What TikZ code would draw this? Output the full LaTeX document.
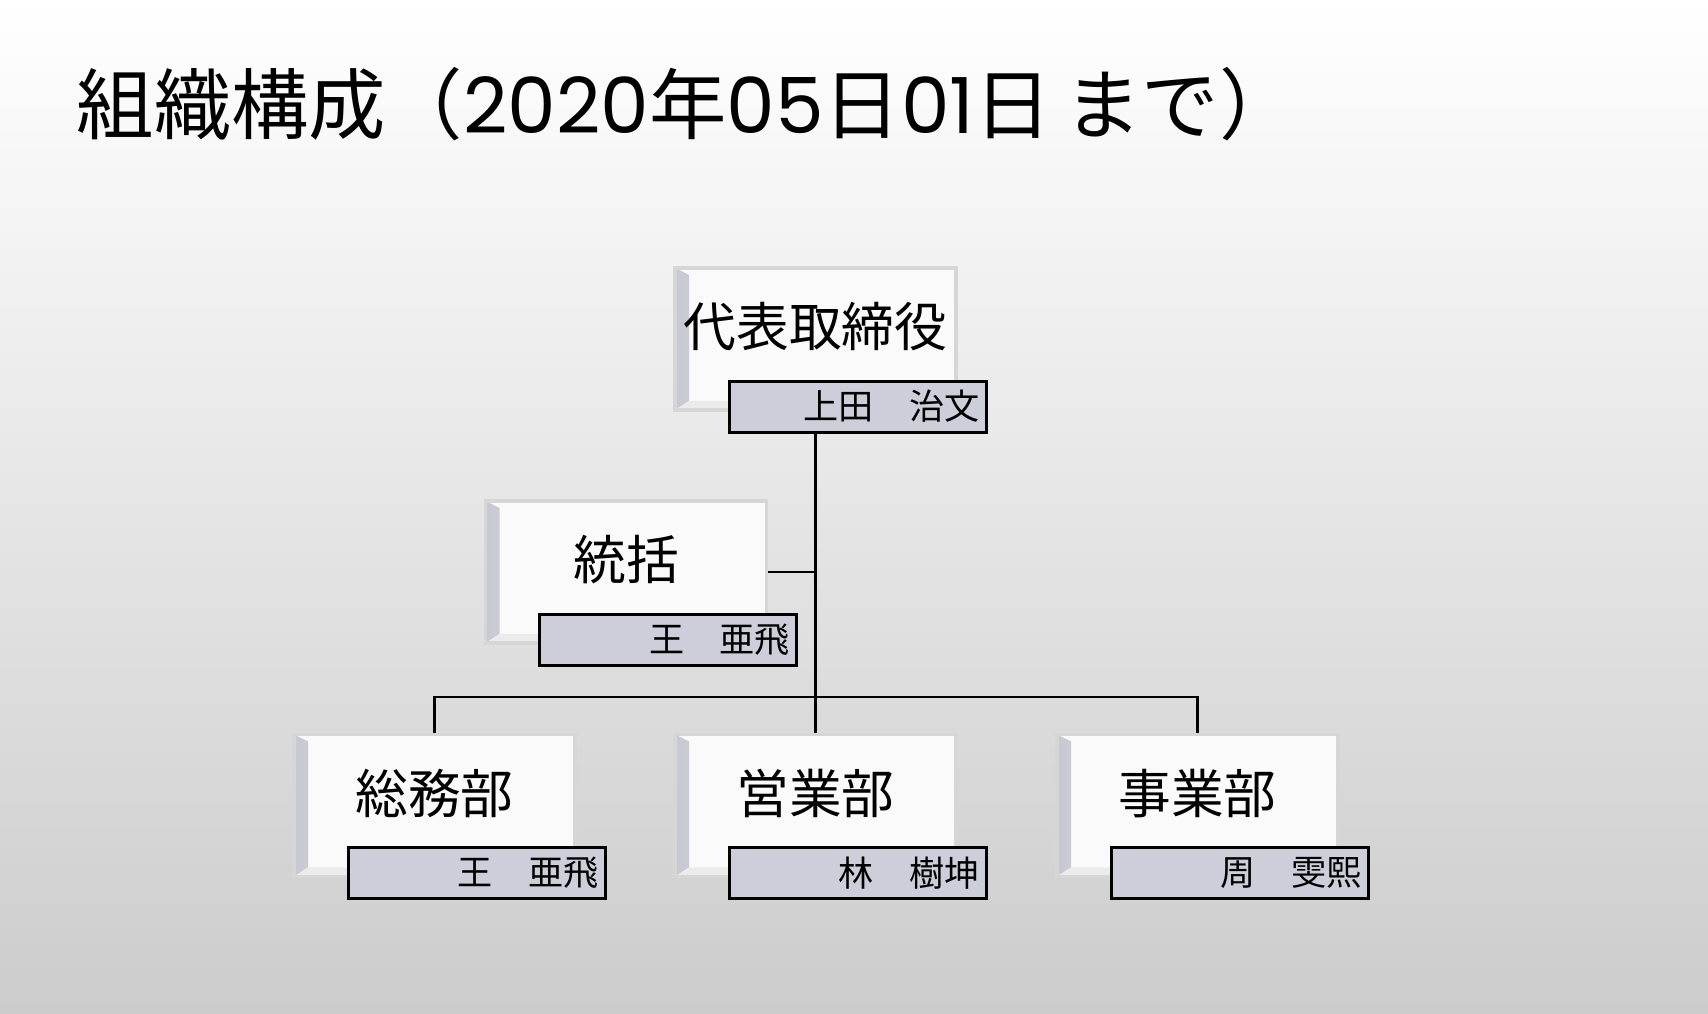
\documentclass[tikz,border=0pt]{standalone}
\usepackage{fontspec}
\newfontfamily\jpfont{Noto Sans CJK JP}
\newfontfamily\digitfont{Poppins}
\usetikzlibrary{positioning}

\definecolor{bgmid}{RGB}{240,240,240}
\definecolor{bgbot}{RGB}{204,204,204}
\definecolor{boxfill}{RGB}{250,250,250}
\definecolor{boxedge}{RGB}{214,214,214}
\definecolor{bevel}{RGB}{200,200,210}
\definecolor{namefill}{RGB}{206,206,218}

\newcommand{\nums}[1]{{\digitfont #1}}

\tikzset{
  unitbox/.style={draw=boxedge, line width=1pt, fill=boxfill,
    minimum width=2.81cm, minimum height=1.42cm, inner sep=0pt,
    path picture={
      % bevel on the left and at the bottom
      \shade[left color=bevel, right color=boxfill]
        (path picture bounding box.north west)
        -- ([shift={(0.14,-0.07)}]path picture bounding box.north west)
        -- ([shift={(0.14,0.09)}]path picture bounding box.south west)
        -- (path picture bounding box.south west) -- cycle;
      \fill[boxedge!50]
        (path picture bounding box.south west)
        -- ([shift={(0.14,0.09)}]path picture bounding box.south west)
        -- ([shift={(0,0.09)}]path picture bounding box.south east)
        -- (path picture bounding box.south east) -- cycle;
    }},
  unittext/.style={font=\jpfont\fontsize{15}{15}\selectfont, inner sep=0pt},
  namebox/.style={draw=black, line width=0.8pt, fill=namefill,
    text width=2.43cm, align=right, minimum height=0.51cm,
    inner xsep=0.07cm, inner ysep=0pt, anchor=north east,
    font=\jpfont\fontsize{10}{10}\selectfont},
  link/.style={line width=0.6pt}
}

\begin{document}
\begin{tikzpicture}
  \useasboundingbox (0,0) rectangle (17.08,10.14);
  \shade[top color=white, middle color=bgmid, bottom color=bgbot] (0,0) rectangle (17.08,10.14);

  \node[anchor=base west, inner sep=0pt, font=\jpfont\fontsize{22}{22}\selectfont] (title) at (0.76,8.80)
    {組織構成（\nums{2020}年\nums{05}日\nums{01}日\,まで）};

  % boxes
  \node[unitbox] (ceo) at (8.155,6.75) {};
  \node[unitbox] (toukatsu) at (6.26,4.42) {};
  \node[unitbox] (soumu) at (4.345,2.085) {};
  \node[unitbox] (eigyo) at (8.155,2.085) {};
  \node[unitbox] (jigyo) at (11.975,2.085) {};

  \node[unittext] (ceot) at ([yshift=0.12cm]ceo.center) {代表取締役};
  \node[unittext] (toukatsut) at ([yshift=0.12cm]toukatsu.center) {統括};
  \node[unittext] (soumut) at ([yshift=0.12cm]soumu.center) {総務部};
  \node[unittext] (eigyot) at ([yshift=0.12cm]eigyo.center) {営業部};
  \node[unittext] (jigyot) at ([yshift=0.12cm]jigyo.center) {事業部};

  \node[namebox] (ceon) at ([shift={(0.30,0.32)}]ceo.south east) {上田　治文};
  \node[namebox] (toukatsun) at ([shift={(0.30,0.32)}]toukatsu.south east) {王　亜飛};
  \node[namebox] (soumun) at ([shift={(0.30,0.32)}]soumu.south east) {王　亜飛};
  \node[namebox] (eigyon) at ([shift={(0.30,0.32)}]eigyo.south east) {林　樹坤};
  \node[namebox] (jigyon) at ([shift={(0.30,0.32)}]jigyo.south east) {周　雯熙};

  % lines
  \coordinate (bus) at (8.155,3.17);
  \draw[link] (ceo.south |- ceon.south) -- (eigyo.north);
  \draw[link] (soumu.north) |- (bus) -| (jigyo.north);
  \draw[link] (toukatsu.east) -- (toukatsu.east -| ceo.south);
\end{tikzpicture}
\end{document}
